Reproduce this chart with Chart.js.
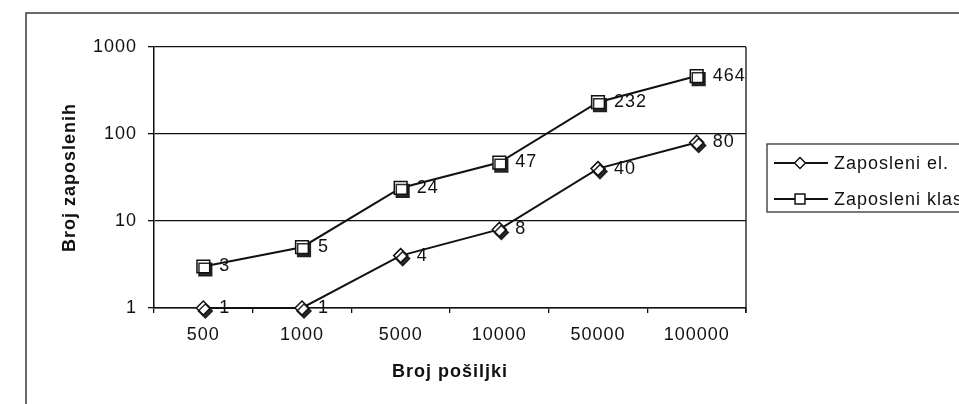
<!DOCTYPE html>
<html>
<head>
<meta charset="utf-8">
<script src="https://cdn.jsdelivr.net/npm/chart.js@4.4.1/dist/chart.umd.min.js"></script>
<style>
  html, body { margin: 0; padding: 0; background: #fff; overflow: hidden; }
  #wrap { position: relative; width: 1000px; height: 420px; }
</style>
</head>
<body>
<div id="wrap"><canvas id="grafik" width="1000" height="420"></canvas></div>
<script>
// podaci sa slike
const kategorije = ['500', '1000', '5000', '10000', '50000', '100000'];
const zaposleniEl = [1, 1, 4, 8, 40, 80];
const zaposleniKlas = [3, 5, 24, 47, 232, 464];
const yTicks = [1, 10, 100, 1000];
const nazivi = ['Zaposleni el.', 'Zaposleni klas.'];

const FONT = "'Liberation Sans', Arial, sans-serif";
const CRNA = '#111';

// malo razmaka izmedju slova, skenirani original je razvucen
const razmak = {
    id: 'razmak',
    beforeLayout(chart) { chart.ctx.letterSpacing = '1px'; },
    beforeDraw(chart) { chart.ctx.letterSpacing = '1px'; }
};

// okvir cijelog grafika i desna ivica plot-a
const okvir = {
    id: 'okvir',
    beforeDraw(chart) {
        const c = chart.ctx;
        c.save();
        c.fillStyle = '#fff';
        c.fillRect(0, 0, chart.width, chart.height);
        c.strokeStyle = '#3a3a3a';
        c.lineWidth = 1.5;
        c.strokeRect(26, 13, 1100, 600);
        c.restore();
    },
    afterDraw(chart) {
        const a = chart.chartArea;
        const c = chart.ctx;
        c.save();
        c.strokeStyle = CRNA;
        c.lineWidth = 1.3;
        c.beginPath();
        c.moveTo(a.right, a.top);
        c.lineTo(a.right, a.bottom + 5);
        c.stroke();
        c.restore();
    }
};

// sjena ispod markera
const sjena = {
    id: 'sjena',
    beforeDatasetDraw(chart, args) {
        if (!chart.data.datasets[args.index].sjena) return;
        const c = chart.ctx;
        c.save();
        c.shadowColor = 'rgba(20,20,20,0.9)';
        c.shadowOffsetX = 2;
        c.shadowOffsetY = 3;
        c.shadowBlur = 0;
    },
    afterDatasetDraw(chart, args) {
        if (!chart.data.datasets[args.index].sjena) return;
        chart.ctx.restore();
    }
};

// vrijednosti pored tacaka
const oznake = {
    id: 'oznake',
    afterDatasetsDraw(chart) {
        const c = chart.ctx;
        c.save();
        c.font = '18px ' + FONT;
        c.fillStyle = CRNA;
        c.textAlign = 'left';
        c.textBaseline = 'middle';
        chart.data.datasets.forEach((ds, i) => {
            if (!ds.sjena) return;
            chart.getDatasetMeta(i).data.forEach((el, j) => {
                c.fillText(String(ds.data[j]), el.x + 16, el.y);
            });
        });
        c.restore();
    }
};

// legenda u okviru, desno
const legenda = {
    id: 'legenda',
    afterDraw(chart) {
        const c = chart.ctx;
        c.save();
        c.strokeStyle = '#333';
        c.lineWidth = 1.3;
        c.strokeRect(767, 144, 230, 68);
        const stilovi = ['rectRot', 'rect'];
        const redovi = [163, 199];
        redovi.forEach((y, i) => {
            c.strokeStyle = CRNA;
            c.lineWidth = 2;
            c.beginPath();
            c.moveTo(774, y);
            c.lineTo(828, y);
            c.stroke();
            c.fillStyle = '#fff';
            c.lineWidth = 1.5;
            Chart.helpers.drawPoint(c, { pointStyle: stilovi[i], radius: i ? 7 : 5.5, rotation: 0, borderWidth: 1.5 }, 800, y);
            c.fillStyle = CRNA;
            c.font = '18px ' + FONT;
            c.textAlign = 'left';
            c.textBaseline = 'middle';
            c.fillText(nazivi[i], 834, y + 1);
        });
        c.restore();
    }
};

const linija = (data) => ({
    data,
    borderColor: CRNA,
    borderWidth: 2,
    pointRadius: 0,
    fill: false,
    tension: 0,
    clip: false,
    order: 2
});

const markeri = (data, stil, r) => ({
    data,
    showLine: false,
    sjena: true,
    clip: false,
    pointStyle: stil,
    pointRadius: r,
    pointHoverRadius: r,
    pointBackgroundColor: '#fff',
    pointBorderColor: CRNA,
    pointBorderWidth: 1.5,
    order: 0
});

new Chart(document.getElementById('grafik'), {
    type: 'line',
    data: {
        labels: kategorije,
        datasets: [
            linija(zaposleniEl),
            linija(zaposleniKlas),
            markeri(zaposleniEl, 'rectRot', 7),
            markeri(zaposleniKlas, 'rect', 9)
        ]
    },
    options: {
        responsive: false,
        animation: false,
        devicePixelRatio: 1,
        layout: { padding: { left: 0, top: 47, right: 254, bottom: 32 } },
        plugins: {
            legend: { display: false },
            tooltip: { enabled: false }
        },
        scales: {
            x: {
                type: 'category',
                offset: true,
                afterFit: s => { s.height = 80; },
                grid: {
                    display: true,
                    offset: true,
                    drawOnChartArea: false,
                    tickLength: 5,
                    color: CRNA,
                    lineWidth: 1.3
                },
                border: { display: true, color: CRNA, width: 1.5 },
                ticks: {
                    color: CRNA,
                    font: { family: FONT, size: 18 },
                    padding: 11,
                    maxRotation: 0,
                    autoSkip: false
                },
                title: {
                    display: true,
                    text: 'Broj pošiljki',
                    color: CRNA,
                    font: { family: FONT, size: 18, weight: 'bold' },
                    padding: { top: 0, bottom: 5 }
                }
            },
            y: {
                type: 'logarithmic',
                min: 1,
                max: 1000,
                afterFit: s => { s.width = 154; },
                afterBuildTicks: s => { s.ticks = yTicks.map(v => ({ value: v })); },
                grid: {
                    color: CRNA,
                    lineWidth: 1.3,
                    tickLength: 6
                },
                border: { display: true, color: CRNA, width: 1.5 },
                ticks: {
                    color: CRNA,
                    font: { family: FONT, size: 18 },
                    padding: 11,
                    callback: v => String(v)
                },
                title: {
                    display: true,
                    text: 'Broj zaposlenih',
                    color: CRNA,
                    font: { family: FONT, size: 18, weight: 'bold' },
                    padding: { top: 59, bottom: 0 }
                }
            }
        }
    },
    plugins: [razmak, okvir, sjena, oznake, legenda]
});
</script>
</body>
</html>
